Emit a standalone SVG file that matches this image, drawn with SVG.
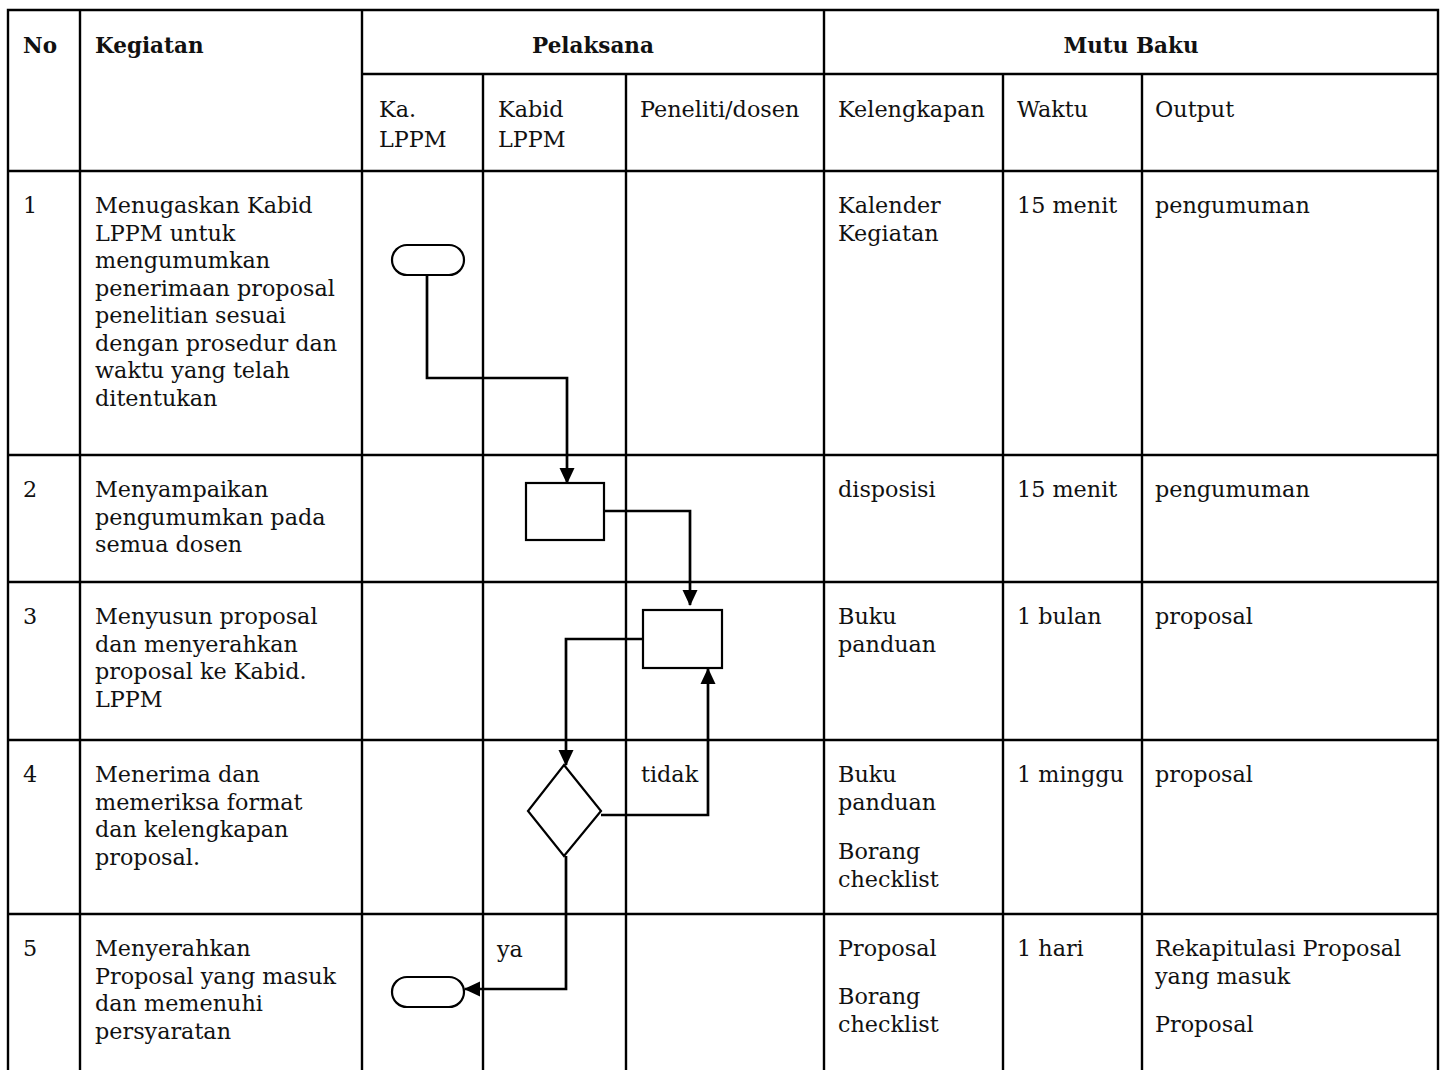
<svg xmlns="http://www.w3.org/2000/svg" width="1446" height="1070" viewBox="0 0 1446 1070">
<style>
.grid{stroke:#000;stroke-width:2.4;fill:none}
.t{font-family:"DejaVu Serif","Liberation Serif",serif;font-size:22.3px;fill:#111}
.h{font-family:"DejaVu Serif","Liberation Serif",serif;font-size:21.5px;font-weight:bold;fill:#111}
.shape{fill:#fff;stroke:#000;stroke-width:2.2}
.conn{fill:none;stroke:#000;stroke-width:2.7}
</style>
<defs>
<marker id="arr" markerWidth="16" markerHeight="16" refX="15" refY="8" orient="auto" markerUnits="userSpaceOnUse">
<path d="M0,0.5 L16,8 L0,15.5 Z" fill="#000"/>
</marker>
</defs>
<rect width="1446" height="1070" fill="#fff"/>
<g id="table" class="grid">
<path d="M8,1070 V10 H1438 V1070"/>
<path d="M80,10 V1070 M362,10 V1070 M824,10 V1070"/>
<path d="M483,74 V1070 M626,74 V1070 M1003,74 V1070 M1142,74 V1070"/>
<path d="M362,74 H1438"/>
<path d="M8,171 H1438 M8,455 H1438 M8,582 H1438 M8,740 H1438 M8,914 H1438"/>
</g>
<g id="header">
<text class="h" x="23" y="53">No</text>
<text class="h" x="95" y="53">Kegiatan</text>
<text class="h" x="593" y="53" text-anchor="middle">Pelaksana</text>
<text class="h" x="1131" y="53" text-anchor="middle">Mutu Baku</text>
<text class="t" x="379" y="117">Ka.</text>
<text class="t" x="379" y="147">LPPM</text>
<text class="t" x="498" y="117">Kabid</text>
<text class="t" x="498" y="147">LPPM</text>
<text class="t" x="640" y="117">Peneliti/dosen</text>
<text class="t" x="838" y="117">Kelengkapan</text>
<text class="t" x="1017" y="117">Waktu</text>
<text class="t" x="1155" y="117">Output</text>
</g>
<g id="row1">
<text class="t" x="23" y="213">1</text>
<text class="t" x="95" y="213">Menugaskan Kabid</text>
<text class="t" x="95" y="240.5">LPPM untuk</text>
<text class="t" x="95" y="268">mengumumkan</text>
<text class="t" x="95" y="295.5">penerimaan proposal</text>
<text class="t" x="95" y="323">penelitian sesuai</text>
<text class="t" x="95" y="350.5">dengan prosedur dan</text>
<text class="t" x="95" y="378">waktu yang telah</text>
<text class="t" x="95" y="405.5">ditentukan</text>
<text class="t" x="838" y="213">Kalender</text>
<text class="t" x="838" y="240.5">Kegiatan</text>
<text class="t" x="1017" y="213">15 menit</text>
<text class="t" x="1155" y="213">pengumuman</text>
</g>
<g id="row2">
<text class="t" x="23" y="497">2</text>
<text class="t" x="95" y="497">Menyampaikan</text>
<text class="t" x="95" y="524.5">pengumumkan pada</text>
<text class="t" x="95" y="552">semua dosen</text>
<text class="t" x="838" y="497">disposisi</text>
<text class="t" x="1017" y="497">15 menit</text>
<text class="t" x="1155" y="497">pengumuman</text>
</g>
<g id="row3">
<text class="t" x="23" y="624">3</text>
<text class="t" x="95" y="624">Menyusun proposal</text>
<text class="t" x="95" y="651.5">dan menyerahkan</text>
<text class="t" x="95" y="679">proposal ke Kabid.</text>
<text class="t" x="95" y="706.5">LPPM</text>
<text class="t" x="838" y="624">Buku</text>
<text class="t" x="838" y="651.5">panduan</text>
<text class="t" x="1017" y="624">1 bulan</text>
<text class="t" x="1155" y="624">proposal</text>
</g>
<g id="row4">
<text class="t" x="23" y="782">4</text>
<text class="t" x="95" y="782">Menerima dan</text>
<text class="t" x="95" y="809.5">memeriksa format</text>
<text class="t" x="95" y="837">dan kelengkapan</text>
<text class="t" x="95" y="864.5">proposal.</text>
<text class="t" x="838" y="782">Buku</text>
<text class="t" x="838" y="809.5">panduan</text>
<text class="t" x="838" y="859">Borang</text>
<text class="t" x="838" y="886.5">checklist</text>
<text class="t" x="1017" y="782">1 minggu</text>
<text class="t" x="1155" y="782">proposal</text>
</g>
<g id="row5">
<text class="t" x="23" y="956">5</text>
<text class="t" x="95" y="956">Menyerahkan</text>
<text class="t" x="95" y="983.5">Proposal yang masuk</text>
<text class="t" x="95" y="1011">dan memenuhi</text>
<text class="t" x="95" y="1038.5">persyaratan</text>
<text class="t" x="838" y="956">Proposal</text>
<text class="t" x="838" y="1004">Borang</text>
<text class="t" x="838" y="1031.5">checklist</text>
<text class="t" x="1017" y="956">1 hari</text>
<text class="t" x="1155" y="956">Rekapitulasi Proposal</text>
<text class="t" x="1155" y="983.5">yang masuk</text>
<text class="t" x="1155" y="1031.5">Proposal</text>
</g>
<g id="connectors">
<path class="conn" d="M427,275 V378 H567 V483" marker-end="url(#arr)"/>
<path class="conn" d="M604,511 H690 V605" marker-end="url(#arr)"/>
<path class="conn" d="M643,639 H566 V765" marker-end="url(#arr)"/>
<path class="conn" d="M601,815 H708 V669" marker-end="url(#arr)"/>
<path class="conn" d="M566,856 V989 H465" marker-end="url(#arr)"/>
<text class="t" x="641" y="782">tidak</text>
<text class="t" x="497" y="957">ya</text>
</g>
<g id="start">
<rect class="shape" x="392" y="245" width="72" height="30" rx="15"/>
</g>
<g id="task-kabid">
<rect class="shape" x="526" y="483" width="78" height="57"/>
</g>
<g id="task-dosen">
<rect class="shape" x="643" y="610" width="79" height="58"/>
</g>
<g id="decision">
<path class="shape" d="M564,765 L601,811 L564,856 L528,811 Z"/>
</g>
<g id="end">
<rect class="shape" x="392" y="977" width="72" height="30" rx="15"/>
</g>
</svg>
